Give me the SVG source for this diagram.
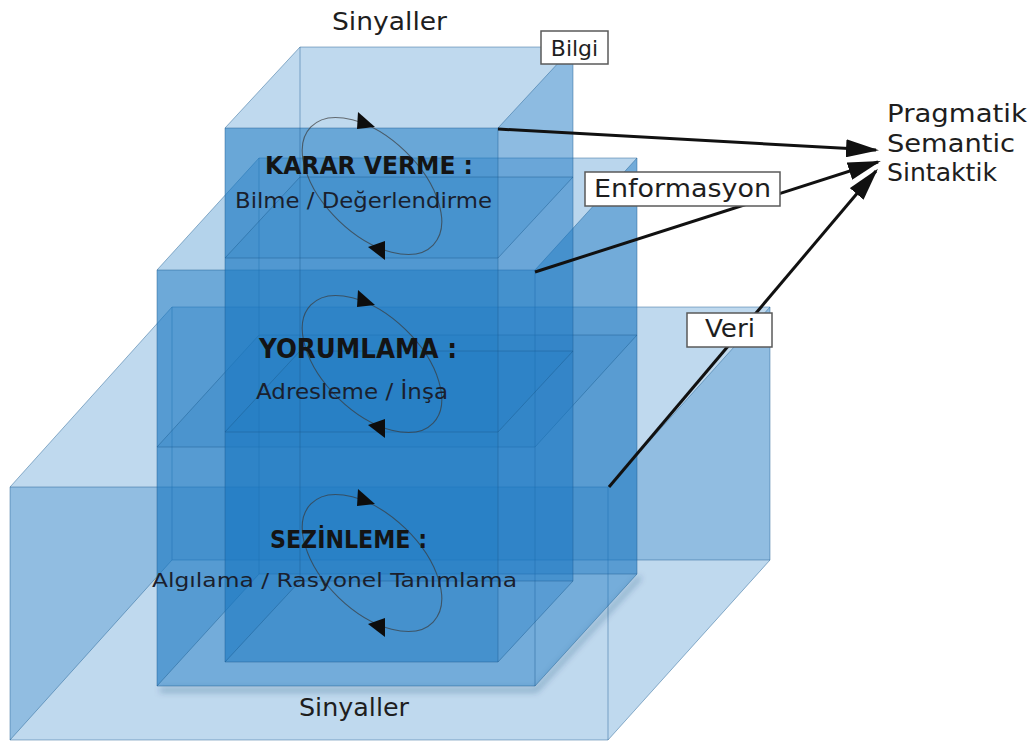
<svg xmlns="http://www.w3.org/2000/svg" width="1035" height="746" viewBox="0 0 1035 746">
  <defs>
    <style>
      .face { fill: #1a78c2; }
      .edge { fill: none; stroke: #1b5a8e; stroke-opacity: 0.45; stroke-width: 1; }
      .loop { fill: none; stroke: #3a3a3a; stroke-opacity: 0.7; stroke-width: 1.1; }
      .tri { fill: #0d0d0d; }
      .head { font-family: "DejaVu Sans", "Liberation Sans", sans-serif; font-weight: bold; fill: #141414; }
      .sub { font-family: "DejaVu Sans", "Liberation Sans", sans-serif; fill: #1a1f2e; }
      .lbl { font-family: "DejaVu Sans", "Liberation Sans", sans-serif; fill: #1e1e1e; }
      .tag { fill: #ffffff; stroke: #5a5a5a; stroke-width: 1.5; }
      .conn { fill: none; stroke: #111111; stroke-width: 3; }
    </style>
    <marker id="arrow" viewBox="0 0 11 6" refX="10" refY="3" markerWidth="11" markerHeight="6" orient="auto" markerUnits="strokeWidth">
      <path d="M0,0 L11,3 L0,6 z" fill="#111111"/>
    </marker>
    <filter id="soft" x="-10%" y="-10%" width="120%" height="120%">
      <feGaussianBlur stdDeviation="3"/>
    </filter>
  </defs>

  <rect width="1035" height="746" fill="#ffffff"/>

  <!-- Lower level: wide box -->
  <g id="box-sezinleme">
    <polygon class="face" fill-opacity="0.28" points="172,307 770,307 770,560 172,560"/>
    <polygon class="face" fill-opacity="0.28" points="10,487 172,307 172,560 10,740"/>
    <polygon class="face" fill-opacity="0.28" points="608,487 770,307 770,560 608,740"/>
    <polygon class="face" fill-opacity="0.28" points="10,487 608,487 608,740 10,740"/>
    <path class="edge" d="M10,487 H608 V740 H10 Z M172,307 H770 V560 H172 Z M10,487 L172,307 M608,487 L770,307 M608,740 L770,560 M10,740 L172,560"/>
  </g>

  <!-- soft shadow under the middle box -->
  <path d="M160,690 H536 L640,577" fill="none" stroke="#0b3a66" stroke-opacity="0.35" stroke-width="4" filter="url(#soft)"/>

  <!-- Middle level box -->
  <g id="box-yorumlama">
    <polygon class="face" fill-opacity="0.30" points="259,158 637,158 637,574 259,574"/>
    <polygon class="face" fill-opacity="0.33" points="157,270 259,158 259,574 157,686"/>
    <polygon class="face" fill-opacity="0.45" points="535,270 637,158 637,574 535,686"/>
    <polygon class="face" fill-opacity="0.18" points="157,447 259,335 637,335 535,447"/>
    <polygon class="face" fill-opacity="0.46" points="157,270 535,270 535,686 157,686"/>
    <path class="edge" d="M157,270 H535 V686 H157 Z M259,158 H637 V574 H259 Z M157,270 L259,158 M535,270 L637,158 M535,686 L637,574 M157,686 L259,574 M157,447 L259,335 H637 L535,447 Z"/>
  </g>

  <!-- Upper column -->
  <g id="box-karar-verme">
    <polygon class="face" fill-opacity="0.28" points="300,47 573,47 573,581 300,581"/>
    <polygon class="face" fill-opacity="0.28" points="225,128 300,47 300,581 225,662"/>
    <polygon class="face" fill-opacity="0.30" points="498,128 573,47 573,581 498,662"/>
    <polygon class="face" fill-opacity="0.18" points="225,258 300,177 573,177 498,258"/>
    <polygon class="face" fill-opacity="0.18" points="225,432 300,351 573,351 498,432"/>
    <polygon class="face" fill-opacity="0.52" points="225,128 498,128 498,662 225,662"/>
    <path class="edge" d="M225,128 H498 V662 H225 Z M300,47 H573 V581 H300 Z M225,128 L300,47 M498,128 L573,47 M498,662 L573,581 M225,662 L300,581 M225,258 L300,177 H573 L498,258 Z M225,432 L300,351 H573 L498,432 Z"/>
  </g>

  <!-- Cycle loops for each level -->
  <g id="loop-karar">
    <ellipse class="loop" cx="372" cy="186" rx="85" ry="48" transform="rotate(44 372 186)"/>
    <polygon class="tri" points="358,112 375,127 357,129"/>
    <polygon class="tri" points="368,247 385,241 385,260"/>
  </g>
  <g id="loop-yorumlama">
    <ellipse class="loop" cx="372" cy="364" rx="85" ry="48" transform="rotate(44 372 364)"/>
    <polygon class="tri" points="358,290 375,305 357,307"/>
    <polygon class="tri" points="368,425 385,419 385,438"/>
  </g>
  <g id="loop-sezinleme">
    <ellipse class="loop" cx="372" cy="563" rx="85" ry="48" transform="rotate(44 372 563)"/>
    <polygon class="tri" points="358,489 375,504 357,506"/>
    <polygon class="tri" points="368,624 385,618 385,637"/>
  </g>

  <!-- Level titles -->
  <g id="text-karar">
    <text class="head" x="265" y="174" font-size="24" textLength="208" lengthAdjust="spacingAndGlyphs">KARAR VERME :</text>
    <text class="sub" x="235" y="208" font-size="21" textLength="257" lengthAdjust="spacingAndGlyphs">Bilme / Değerlendirme</text>
  </g>
  <g id="text-yorumlama">
    <text class="head" x="259" y="358" font-size="26" textLength="198" lengthAdjust="spacingAndGlyphs">YORUMLAMA :</text>
    <text class="sub" x="256" y="399" font-size="21" textLength="192" lengthAdjust="spacingAndGlyphs">Adresleme / İnşa</text>
  </g>
  <g id="text-sezinleme">
    <text class="head" x="270" y="548" font-size="25" textLength="157" lengthAdjust="spacingAndGlyphs">SEZİNLEME :</text>
    <text class="sub" x="152" y="587" font-size="20" textLength="365" lengthAdjust="spacingAndGlyphs">Algılama / Rasyonel Tanımlama</text>
  </g>

  <!-- Signal labels -->
  <g id="signals-top">
    <text class="lbl" x="332" y="30" font-size="24" textLength="115" lengthAdjust="spacingAndGlyphs">Sinyaller</text>
  </g>
  <g id="signals-bottom">
    <text class="lbl" x="299" y="716" font-size="24" textLength="110" lengthAdjust="spacingAndGlyphs">Sinyaller</text>
  </g>

  <!-- Connectors -->
  <g id="connectors">
    <line class="conn" x1="498" y1="129" x2="876" y2="150" marker-end="url(#arrow)"/>
    <line class="conn" x1="535" y1="272" x2="878" y2="162" marker-end="url(#arrow)"/>
    <line class="conn" x1="609" y1="487" x2="876" y2="171" marker-end="url(#arrow)"/>
  </g>

  <!-- Tagged labels -->
  <g id="tag-bilgi">
    <rect class="tag" x="541" y="31" width="67" height="33"/>
    <text class="lbl" x="574.5" y="56" font-size="22" text-anchor="middle">Bilgi</text>
  </g>
  <g id="tag-enformasyon">
    <rect class="tag" x="585" y="172" width="195" height="34"/>
    <text class="lbl" x="594" y="197" font-size="24" textLength="177" lengthAdjust="spacingAndGlyphs">Enformasyon</text>
  </g>
  <g id="tag-veri">
    <rect class="tag" x="687" y="313" width="85" height="34"/>
    <text class="lbl" x="705" y="337" font-size="24" textLength="50" lengthAdjust="spacingAndGlyphs">Veri</text>
  </g>

  <!-- Target levels -->
  <g id="levels">
    <text class="lbl" x="887" y="122" font-size="25" textLength="140" lengthAdjust="spacingAndGlyphs">Pragmatik</text>
    <text class="lbl" x="887" y="152" font-size="25" textLength="128" lengthAdjust="spacingAndGlyphs">Semantic</text>
    <text class="lbl" x="887" y="181" font-size="25" textLength="110" lengthAdjust="spacingAndGlyphs">Sintaktik</text>
  </g>
</svg>
